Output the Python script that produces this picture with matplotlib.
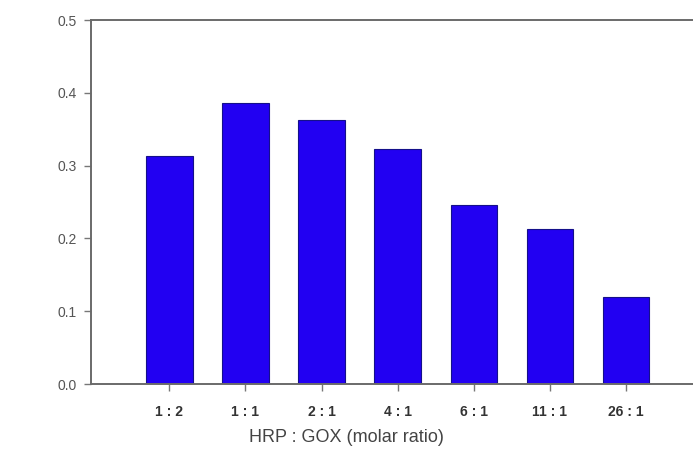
import matplotlib
matplotlib.use("Agg")
import matplotlib.pyplot as plt

categories = ["1 : 2", "1 : 1", "2 : 1", "4 : 1", "6 : 1", "11 : 1", "26 : 1"]
values = [0.313, 0.386, 0.362, 0.323, 0.246, 0.213, 0.119]
yticks = [0.0, 0.1, 0.2, 0.3, 0.4, 0.5]
xlabel = "HRP : GOX (molar ratio)"

plt.rcParams['font.family'] = ['Liberation Sans', 'DejaVu Sans']

fig = plt.figure(figsize=(6.93, 4.53), dpi=100)
ax = fig.add_axes([91/693, 1 - 384/453, 1 - 91/693, (384 - 20)/453])

x = list(range(len(categories)))
ax.bar(x, values, width=0.61, color='#2200f2', edgecolor='#14108a', linewidth=0.8, zorder=2)

ax.set_xlim(-1.03, 6.88)
ax.set_ylim(0, 0.5)
ax.set_yticks(yticks)
ax.set_yticklabels([f"{v:.1f}" for v in yticks], fontsize=10, color='#555555')
ax.set_xticks(x)
ax.set_xticklabels(categories, fontsize=10, fontweight='bold', color='#333333')

for s in ['left', 'bottom', 'top']:
    ax.spines[s].set_color('#6a6a6a')
    ax.spines[s].set_linewidth(1.4)
ax.spines['right'].set_visible(False)
ax.tick_params(axis='both', direction='out', length=5, width=1, color='#777777')
ax.tick_params(axis='x', pad=10)
ax.tick_params(axis='y', pad=5)

fig.text(346/693, 1 - 437/453, xlabel, ha='center', va='center', fontsize=13, color='#444444')

fig.savefig("out.png", dpi=100)
